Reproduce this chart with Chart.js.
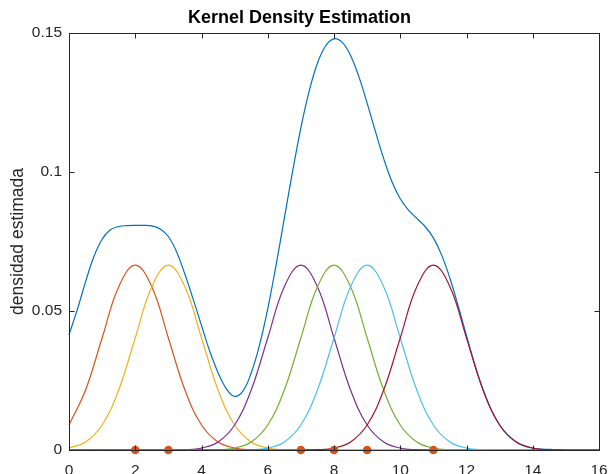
<!DOCTYPE html>
<html>
<head>
<meta charset="utf-8">
<script src="https://cdn.jsdelivr.net/npm/chart.js@4"></script>
<style>
  html, body { margin: 0; padding: 0; background: #ffffff; }
  #c { display: block; }
</style>
</head>
<body>
<canvas id="c" width="610" height="474"></canvas>
<script>
// ---- data ----
const titleText = 'Kernel Density Estimation';
const yAxisLabel = 'densidad estimada';
const xTickLabels = ['0','2','4','6','8','10','12','14','16'];
const yTickLabels = ['0','0.05','0.1','0.15'];

const samples = [2, 3, 7, 8, 9, 11];
const samplesY = [0, 0, 0, 0, 0, 0];

// x grid for the single kernels (step 0.5)
const xK = [0,0.5,1,1.5,2,2.5,3,3.5,4,4.5,5,5.5,6,6.5,7,7.5,8,8.5,9,9.5,10,10.5,11,11.5,12,12.5,13,13.5,14,14.5,15,15.5,16];

const k2  = [0.0090,0.0216,0.0403,0.0587,0.0665,0.0587,0.0403,0.0216,0.0090,0.0029,0.0007,0.0001,0,0,0,0,0,0,0,0,0,0,0,0,0,0,0,0,0,0,0,0,0];
const k3  = [0.0007,0.0029,0.0090,0.0216,0.0403,0.0587,0.0665,0.0587,0.0403,0.0216,0.0090,0.0029,0.0007,0.0001,0,0,0,0,0,0,0,0,0,0,0,0,0,0,0,0,0,0,0];
const k7  = [0,0,0,0,0,0,0,0.0001,0.0007,0.0029,0.0090,0.0216,0.0403,0.0587,0.0665,0.0587,0.0403,0.0216,0.0090,0.0029,0.0007,0.0001,0,0,0,0,0,0,0,0,0,0,0];
const k8  = [0,0,0,0,0,0,0,0,0,0.0001,0.0007,0.0029,0.0090,0.0216,0.0403,0.0587,0.0665,0.0587,0.0403,0.0216,0.0090,0.0029,0.0007,0.0001,0,0,0,0,0,0,0,0,0];
const k9  = [0,0,0,0,0,0,0,0,0,0,0,0.0001,0.0007,0.0029,0.0090,0.0216,0.0403,0.0587,0.0665,0.0587,0.0403,0.0216,0.0090,0.0029,0.0007,0.0001,0,0,0,0,0,0,0];
const k11 = [0,0,0,0,0,0,0,0,0,0,0,0,0,0,0,0.0001,0.0007,0.0029,0.0090,0.0216,0.0403,0.0587,0.0665,0.0587,0.0403,0.0216,0.0090,0.0029,0.0007,0.0001,0,0,0];

// x grid for the total estimate (step 0.25)
const xT = [0,0.25,0.5,0.75,1,1.25,1.5,1.75,2,2.25,2.5,2.75,3,3.25,3.5,3.75,4,4.25,4.5,4.75,5,5.25,5.5,5.75,6,6.25,6.5,6.75,7,7.25,7.5,7.75,8,8.25,8.5,8.75,9,9.25,9.5,9.75,10,10.25,10.5,10.75,11,11.25,11.5,11.75,12,12.25,12.5,12.75,13,13.25,13.5,13.75,14,14.25,14.5,14.75,15,15.25,15.5,15.75,16];
const total = [0.0415,0.0505,0.0605,0.0695,0.0758,0.0792,0.0804,0.0807,0.0808,0.0808,0.0806,0.0795,0.0768,0.0712,0.0632,0.0542,0.0448,0.0355,0.0278,0.0220,0.0193,0.0212,0.0277,0.0377,0.0508,0.0664,0.0833,0.1002,0.1159,0.1291,0.1391,0.1454,0.1479,0.1466,0.1419,0.1343,0.1248,0.1146,0.1048,0.0965,0.0904,0.0863,0.0833,0.0804,0.0763,0.0701,0.0618,0.0518,0.0411,0.0308,0.0217,0.0144,0.0090,0.0053,0.0029,0.0015,0.0007,0.0003,0.0002,0.0001,0,0,0,0,0];

// ---- build ----
const pairs = (xs, ys) => xs.map((x, i) => ({ x: x, y: ys[i] }));
const AX = '#262626';
const FONT = '"Liberation Sans", Arial, Helvetica, sans-serif';

function lineDs(data, color, order) {
  return {
    type: 'line', data: data, borderColor: color, backgroundColor: color,
    borderWidth: 1.2, pointRadius: 0, fill: false,
    tension: 0.4, order: order, clip: 3
  };
}

const boxPlugin = {
  id: 'boxTicks',
  afterDatasetsDraw(chart) {
    const { ctx, chartArea: a, scales } = chart;
    ctx.save();
    ctx.strokeStyle = AX;
    ctx.lineWidth = 1;
    const L = Math.round(a.left) + 0.5, R = Math.round(a.right) + 0.5;
    const T = Math.round(a.top) + 0.5, B = Math.round(a.bottom) + 0.5;
    ctx.beginPath();
    ctx.rect(L, T, R - L, B - T);
    const tl = 5;
    scales.x.ticks.forEach(t => {
      const px = Math.round(scales.x.getPixelForValue(t.value)) + 0.5;
      ctx.moveTo(px, B); ctx.lineTo(px, B - tl);
      ctx.moveTo(px, T); ctx.lineTo(px, T + tl);
    });
    scales.y.ticks.forEach(t => {
      const py = Math.round(scales.y.getPixelForValue(t.value)) + 0.5;
      ctx.moveTo(L, py); ctx.lineTo(L + tl, py);
      ctx.moveTo(R, py); ctx.lineTo(R - tl, py);
    });
    ctx.stroke();
    ctx.restore();
  }
};

new Chart(document.getElementById('c'), {
  type: 'line',
  data: {
    datasets: [
      {
        type: 'line', data: pairs(samples, samplesY), showLine: false,
        pointRadius: 4.3, pointHoverRadius: 4.3, pointBorderWidth: 0,
        pointBackgroundColor: '#D95319', borderColor: '#D95319',
        order: 0, clip: false
      },
      lineDs(pairs(xK, k11), '#A2142F', 1),
      lineDs(pairs(xK, k9), '#4DBEEE', 2),
      lineDs(pairs(xK, k8), '#77AC30', 3),
      lineDs(pairs(xK, k7), '#7E2F8E', 4),
      lineDs(pairs(xK, k3), '#EDB120', 5),
      lineDs(pairs(xK, k2), '#D95319', 6),
      lineDs(pairs(xT, total), '#0072BD', 7)
    ]
  },
  options: {
    responsive: false,
    animation: false,
    layout: { padding: { left: 0, right: 11, top: 0, bottom: 0 } },
    plugins: {
      legend: { display: false },
      tooltip: { enabled: false },
      title: {
        display: true, text: titleText, color: '#000000',
        font: { family: FONT, size: 18, weight: 'bold' },
        padding: { top: 7, bottom: 4.4 }
      }
    },
    scales: {
      x: {
        type: 'linear', min: 0, max: 16,
        grid: { display: false, drawTicks: false },
        border: { display: false },
        ticks: {
          stepSize: 2, color: AX, padding: 11, maxRotation: 0,
          font: { family: FONT, size: 15.5 },
          callback: (v, i) => xTickLabels[i]
        },
        afterFit: s => { s.height = 24; s.paddingLeft = 0; s.paddingRight = 0; }
      },
      y: {
        type: 'linear', min: 0, max: 0.15,
        grid: { display: false, drawTicks: false },
        border: { display: false },
        ticks: {
          stepSize: 0.05, color: AX, padding: 7,
          font: { family: FONT, size: 15.5 },
          callback: (v, i) => yTickLabels[i]
        },
        title: {
          display: true, text: yAxisLabel, color: AX,
          font: { family: FONT, size: 17.5 },
          padding: { top: 8, bottom: 0 }
        },
        afterFit: s => { s.width = 69; }
      }
    }
  },
  plugins: [boxPlugin]
});
</script>
</body>
</html>
